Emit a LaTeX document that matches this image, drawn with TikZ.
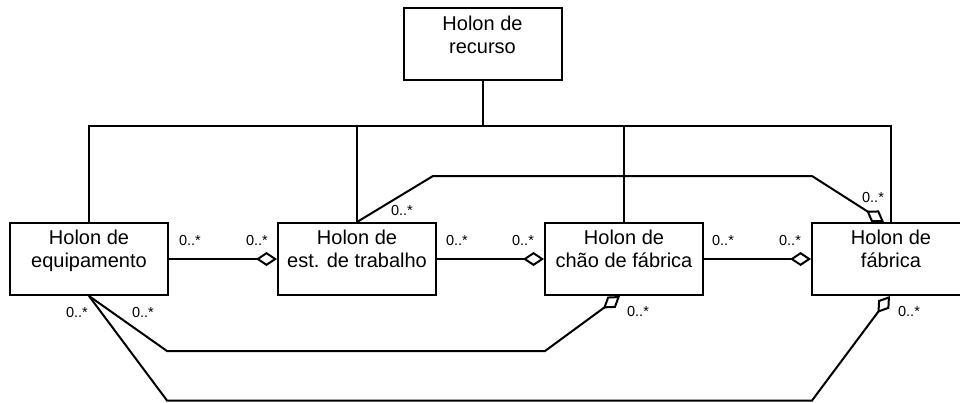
\documentclass[tikz,border=0pt]{standalone}
\usepackage{fontspec}
\setmainfont{Liberation Sans}
\usetikzlibrary{arrows.meta}
\begin{document}
\begin{tikzpicture}[x=1pt,y=-1pt,
  holon/.style={draw, line width=2pt, fill=white, minimum width=158pt, minimum height=72pt, inner sep=0pt},
  holontext/.style={anchor=north, align=center, inner sep=0pt, font=\fontsize{20}{23}\selectfont},
  conn/.style={line width=2pt},
  agg/.style={conn, -{Diamond[open, length=21pt, width=14pt]}},
  mult/.style={font=\fontsize{14.5}{16}\selectfont, inner sep=0pt},
]
\useasboundingbox (0,0) rectangle (960,402);

% holon boxes
\node[holon] (res) at (482.5,44) {};
\node[holon] (eq) at (89,259) {};
\node[holon] (ws) at (357,259) {};
\node[holon] (sf) at (624,259) {};
\node[holon] (fa) at (891,259) {};

\node[holontext] (resT) at ([yshift=-9pt]res.north) {Holon de\\recurso};
\node[holontext] (eqT) at ([yshift=-8pt]eq.north) {Holon de\\equipamento};
\node[holontext] (wsT) at ([yshift=-8pt]ws.north) {Holon de\\est. de trabalho};
\node[holontext] (sfT) at ([yshift=-8pt]sf.north) {Holon de\\chão de fábrica};
\node[holontext] (faT) at ([yshift=-8pt]fa.north) {Holon de\\fábrica};

% generalisation bus
\coordinate (bus) at (482.5,126);
\draw[conn] (res.south) -- (bus);
\draw[conn] (eq.north) |- (bus) -| (fa.north);
\draw[conn] (ws.north) -- (ws.north |- bus);
\draw[conn] (sf.north) -- (sf.north |- bus);

% aggregations between neighbours
\draw[agg] (eq.east) -- (ws.west);
\draw[agg] (ws.east) -- (sf.west);
\draw[agg] (sf.east) -- (fa.west);

% upper route: workstation -> factory
\coordinate (tA) at (433,176);
\coordinate (tB) at (812,176);
\draw[agg] (ws.north) -- (tA) -- (tB) -- ([xshift=-7pt]fa.north);

% lower routes: equipment -> shop floor / factory
\coordinate (bA) at (167,351);
\coordinate (bB) at (545,351);
\draw[agg] (eq.south) -- (bA) -- (bB) -- ([xshift=-4pt]sf.south);
\coordinate (cA) at (167,400.5);
\coordinate (cB) at (812,400.5);
\draw[agg] (eq.south) -- (cA) -- (cB) -- ([xshift=-1pt]fa.south);

% multiplicities
\node[mult] (m1) at (190,241) {0..*};
\node[mult] (m2) at (257,241) {0..*};
\node[mult] (m3) at (457,241) {0..*};
\node[mult] (m4) at (523,241) {0..*};
\node[mult] (m5) at (723,241) {0..*};
\node[mult] (m6) at (790,241) {0..*};
\node[mult] (m7) at (402,211) {0..*};
\node[mult] (m8) at (873,198) {0..*};
\node[mult] (m9) at (77,313) {0..*};
\node[mult] (m10) at (143,313) {0..*};
\node[mult] (m11) at (638,312) {0..*};
\node[mult] (m12) at (909,312) {0..*};
\end{tikzpicture}
\end{document}
